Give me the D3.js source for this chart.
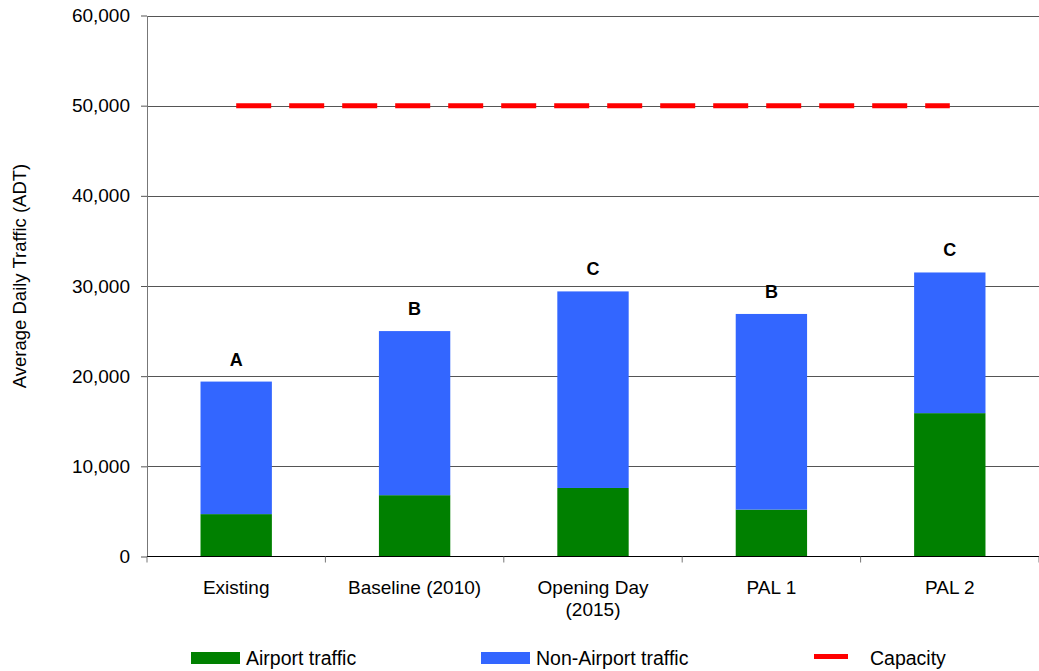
<!DOCTYPE html>
<html><head><meta charset="utf-8">
<script src="https://cdn.jsdelivr.net/npm/d3@7"></script>
<style>body{margin:0;background:#fff;font-family:"Liberation Sans",Arial,sans-serif;}</style>
</head><body>
<svg id="chart" width="1039" height="671"></svg>
<script>
const categories = ["Existing", "Baseline (2010)", "Opening Day\n(2015)", "PAL 1", "PAL 2"];
const airportTraffic = [4700, 6800, 7600, 5200, 15900];
const nonAirportTraffic = [14700, 18200, 21800, 21700, 15600];
const levelOfService = ["A", "B", "C", "B", "C"];
const capacity = 50000;
const yTicks = [0, 10000, 20000, 30000, 40000, 50000, 60000];

const svg = d3.select("#chart");
const m = {left:147, right:1039, top:15.5, bottom:556.5};
const x = d3.scaleBand().domain(categories).range([m.left, m.right]).paddingInner(0.6).paddingOuter(0.3);
const band = d3.scaleBand().domain(categories).range([m.left, m.right]);
const y = d3.scaleLinear().domain([0, 60000]).range([m.bottom, m.top]);

// gridlines
svg.append("g").selectAll("line").data(yTicks.filter(d=>d>0)).join("line")
  .attr("x1", m.left).attr("x2", m.right)
  .attr("y1", d=>Math.round(y(d))+0.5).attr("y2", d=>Math.round(y(d))+0.5)
  .attr("stroke", "#555").attr("stroke-width", 1);

// bars
const stackData = categories.map((c,i)=>({cat:c, airport:airportTraffic[i], non:nonAirportTraffic[i]}));
const stack = d3.stack().keys(["airport","non"])(stackData);
const colors = {airport:"#008000", non:"#3366FF"};
svg.append("g").selectAll("g").data(stack).join("g")
  .attr("fill", s=>colors[s.key])
  .selectAll("rect").data(s=>s).join("rect")
  .attr("x", d=>x(d.data.cat)).attr("width", x.bandwidth())
  .attr("y", d=>y(d[1])).attr("height", d=>y(d[0])-y(d[1]));

// capacity line
svg.append("line")
  .attr("x1", band(categories[0]) + band.bandwidth()/2)
  .attr("x2", band(categories[categories.length-1]) + band.bandwidth()/2)
  .attr("y1", y(capacity)).attr("y2", y(capacity))
  .attr("stroke", "#FF0000").attr("stroke-width", 5).attr("stroke-dasharray", "35,18");

// LOS labels
svg.append("g").selectAll("text").data(categories).join("text")
  .attr("x", d=>x(d)+x.bandwidth()/2)
  .attr("y", (d,i)=>y(airportTraffic[i]+nonAirportTraffic[i]) - 16)
  .attr("text-anchor","middle").attr("font-size", 18).attr("font-weight","bold")
  .text((d,i)=>levelOfService[i]);

// y axis
const yAxis = svg.append("g").attr("transform", `translate(${m.left},0)`)
  .call(d3.axisLeft(y).tickValues(yTicks).tickFormat(d3.format(",")).tickSize(6).tickSizeOuter(0));
yAxis.select(".domain").attr("stroke", "#777");
yAxis.selectAll(".tick line").attr("stroke", "#555");
yAxis.selectAll(".tick text").attr("font-size", 19).attr("font-family","Liberation Sans, Arial, sans-serif").attr("fill","#000").attr("x", -17);

// x axis
svg.append("line").attr("x1", m.left).attr("x2", m.right).attr("y1", m.bottom).attr("y2", m.bottom).attr("stroke","#000");
const bounds = categories.map(c=>band(c)).concat([m.right]);
svg.append("g").selectAll("line").data(bounds).join("line")
  .attr("x1", d=>d).attr("x2", d=>d).attr("y1", m.bottom).attr("y2", m.bottom+6).attr("stroke","#777");
const xl = svg.append("g").selectAll("text").data(categories).join("text")
  .attr("x", d=>band(d)+band.bandwidth()/2).attr("y", 594)
  .attr("text-anchor","middle").attr("font-size", 19);
xl.each(function(d){
  const t = d3.select(this);
  d.split("\n").forEach((s,i)=>t.append("tspan").attr("x", band(d)+band.bandwidth()/2).attr("dy", i===0?0:22).text(s));
});

// y title
svg.append("text").attr("transform", "translate(26,276) rotate(-90)")
  .attr("text-anchor","middle").attr("font-size", 18.5).text("Average Daily Traffic (ADT)");

// legend
const legend = [
  {label:"Airport traffic", type:"rect", color:"#008000", x:191, w:49, tx:246},
  {label:"Non-Airport traffic", type:"rect", color:"#3366FF", x:481, w:49, tx:536},
  {label:"Capacity", type:"line", color:"#FF0000", x:814, w:34, tx:870}
];
const lg = svg.append("g");
legend.forEach(l=>{
  if(l.type==="rect") lg.append("rect").attr("x", l.x).attr("y", 652).attr("width", l.w).attr("height", 12).attr("fill", l.color);
  else lg.append("rect").attr("x", l.x).attr("y", 654).attr("width", l.w).attr("height", 5).attr("fill", l.color);
  lg.append("text").attr("x", l.tx).attr("y", 665).attr("font-size", 19.5).text(l.label);
});
</script>
</body></html>
